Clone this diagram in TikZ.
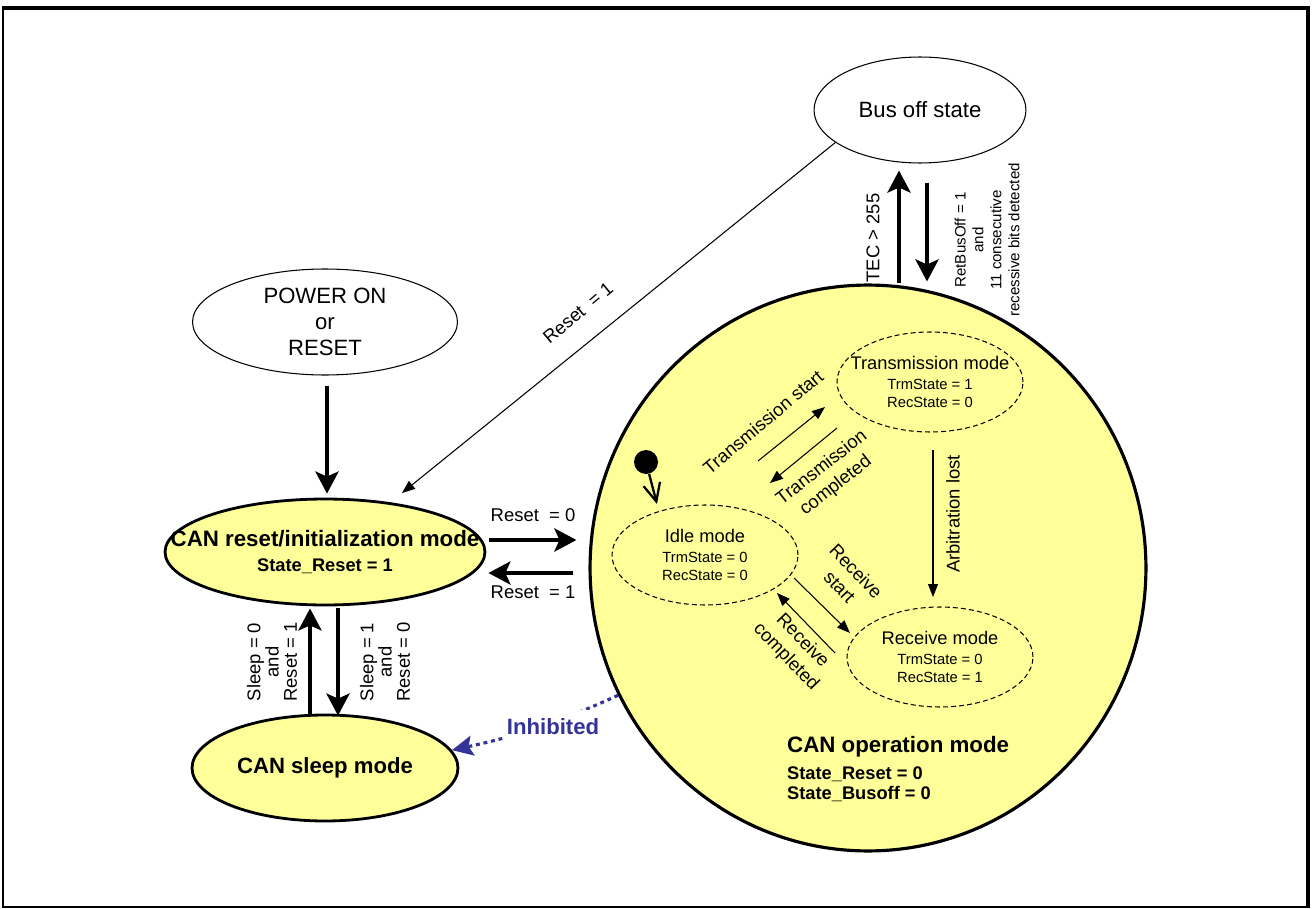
\documentclass[tikz,border=0pt]{standalone}
\usepackage{fontspec}
\setmainfont{Liberation Sans}
\usetikzlibrary{shapes.geometric,arrows.meta}

\definecolor{modefill}{HTML}{FFFF99}
\definecolor{inhblue}{HTML}{333399}

\begin{document}
\begin{tikzpicture}[x=0.02cm,y=-0.02cm]
  % Styles and colors
  \tikzset{
    state/.style={ellipse,draw,line width=0.6pt,inner sep=0pt,align=center},
    mainstate/.style={ellipse,draw,line width=1.6pt,fill=modefill,inner sep=0pt,align=center},
    substate/.style={ellipse,draw,line width=0.6pt,dash pattern=on 2.8pt off 1.8pt,
      inner sep=0pt,minimum width=3.72cm,minimum height=2cm},
    subtext/.style={align=center,font=\fontsize{8.4}{10.2}\selectfont},
    bigtext/.style={font=\fontsize{12.6}{14.7}\selectfont},
    midtext/.style={font=\fontsize{10.5}{13}\selectfont},
    bigarrow/.style={line width=2.5pt,-{Stealth[length=0.44cm,width=0.46cm,inset=0.1cm]}},
    thinarrow/.style={line width=0.6pt,-{Triangle[length=0.26cm,width=0.2cm]}},
    inhibit/.style={draw=inhblue,line width=1.8pt,dash pattern=on 2.2pt off 2.2pt,
      -{Stealth[length=0.42cm,width=0.4cm,inset=0.08cm,fill=inhblue]}}
  }

  \useasboundingbox (0,0) rectangle (1312,909);
  % Frame
  \draw[line width=0.8pt] (3,8) rectangle (1308,907);
  \draw[line width=2.3pt] (2,8) -- (1308,8) -- (1308,908);

  % Outer states
  \node[state,bigtext,minimum width=4.24cm,minimum height=2.12cm] (busoff) at (920,110) {Bus off state};
  \node[state,bigtext,minimum width=5.3cm,minimum height=2.12cm] (power) at (325,322) {POWER ON\\or\\RESET};
  \node[mainstate,minimum width=6.4cm,minimum height=2.12cm,
    label={[align=center,font=\bfseries\fontsize{12.7}{14.7}\selectfont]center:{CAN reset/initialization mode\\{\fontsize{10.4}{12}\selectfont State\_Reset = 1}}}]
    (reset) at (325,552) {};
  \node[mainstate,minimum width=5.32cm,minimum height=2.12cm,
    font=\bfseries\fontsize{12.6}{14}\selectfont] (sleep) at (325,768) {CAN sleep mode};
  \node[mainstate,line width=1.8pt,minimum width=11.12cm,minimum height=11.32cm] (opmode) at (868,568) {};
  \node[anchor=west,align=left,font=\bfseries\fontsize{10.4}{11.3}\selectfont] (oplabel) at (781,769)
    {{\fontsize{12.7}{14}\selectfont CAN operation mode}\\[4pt]State\_Reset = 0\\State\_Busoff = 0};

  % Sub-states of operation mode
  \node[substate,label={[subtext]center:{{\fontsize{10.4}{12}\selectfont Transmission mode}\\[1pt]TrmState = 1\\RecState = 0}}]
    (trm) at (930,382) {};
  \node[substate,label={[subtext]center:{{\fontsize{10.4}{12}\selectfont Idle mode}\\[1pt]TrmState = 0\\RecState = 0}}]
    (idle) at (705,555) {};
  \node[substate,label={[subtext]center:{{\fontsize{10.4}{12}\selectfont Receive mode}\\[1pt]TrmState = 0\\RecState = 1}}]
    (rec) at (940,657) {};
  \node[circle,fill,inner sep=0pt,minimum size=0.48cm] (init) at (646,462) {};

  % Transitions between the modes
  \draw[bigarrow] ([shift={(2,10)}]power.south) -- ([shift={(2,-4)}]reset.north);
  \draw[bigarrow] ([shift={(3,-12)}]reset.east) -- ([shift={(-12,-28)}]opmode.west);
  \draw[bigarrow] ([shift={(-15,5)}]opmode.west) -- ([shift={(2,21)}]reset.east);
  \draw[bigarrow] ([shift={(-15,0)}]sleep.north) -- ([shift={(-15,2)}]reset.south);
  \draw[bigarrow] ([shift={(13,2)}]reset.south) -- ([shift={(13,2)}]sleep.north);
  \draw[bigarrow] ([shift={(31,0)}]opmode.north) -- ([shift={(-21,7)}]busoff.south);
  \draw[bigarrow] ([shift={(7,19)}]busoff.south) -- ([shift={(59,-2)}]opmode.north);
  \draw[thinarrow] (busoff.201) -- ([shift={(77,-59)}]reset.center);
  \draw[inhibit] (opmode.207) to[bend left=6] (sleep.8);

  \node[midtext] (lreset0) at (533,515) {Reset~ = 0};
  \node[midtext] (lreset1) at (533,592) {Reset~ = 1};
  \node[midtext,rotate=40] (lbusreset) at (578,313) {Reset~ = 1};
  \node[font=\fontsize{10.5}{10.4}\selectfont,rotate=90,align=center] (lwake) at (272,662) {Sleep = 0\\and\\Reset = 1};
  \node[font=\fontsize{10.5}{10.4}\selectfont,rotate=90,align=center] (lsleep) at (385,662) {Sleep = 1\\and\\Reset = 0};
  \node[font=\fontsize{10.5}{12}\selectfont,rotate=90] (ltec) at (873,238) {TEC > 255};
  \node[font=\fontsize{8.6}{10.2}\selectfont,rotate=90,align=center] (lret) at (987,240)
    {RetBusOff = 1\\and\\11 consecutive\\recessive bits detected};
  \node[fill=white,inner xsep=2pt,inner ysep=5pt,text=inhblue,
    font=\bfseries\fontsize{12.6}{14}\selectfont] (linhib) at (553,727) {Inhibited};

  % Transitions inside operation mode
  \draw[line width=1.3pt,-{Straight Barb[length=0.36cm,width=0.34cm]}] (init) -- ([shift={(-48,-51)}]idle.center);
  \draw[thinarrow] ([shift={(53,-94)}]idle.center) -- ([shift={(-105,25)}]trm.center);
  \draw[thinarrow] ([shift={(-93,46)}]trm.center) -- ([shift={(65,-72)}]idle.center);
  \draw[thinarrow] ([shift={(3,68)}]trm.center) -- ([shift={(-7,-60)}]rec.center);
  \draw[thinarrow] ([shift={(89,23)}]idle.center) -- ([shift={(-90,-24)}]rec.center);
  \draw[thinarrow] ([shift={(-105,-4)}]rec.center) -- ([shift={(72,38)}]idle.center);

  \node[midtext,rotate=40] (ltstart) at (763,422) {Transmission start};
  \node[midtext,rotate=38,align=center] (ltdone) at (829,477) {Transmission\\completed};
  \node[midtext,rotate=90] (larb) at (953,514) {Arbitration lost};
  \node[midtext,rotate=-46,align=center] (lrstart) at (848,579) {Receive\\start};
  \node[midtext,rotate=-46,align=center] (lrdone) at (794,649) {Receive\\completed};
\end{tikzpicture}
\end{document}
